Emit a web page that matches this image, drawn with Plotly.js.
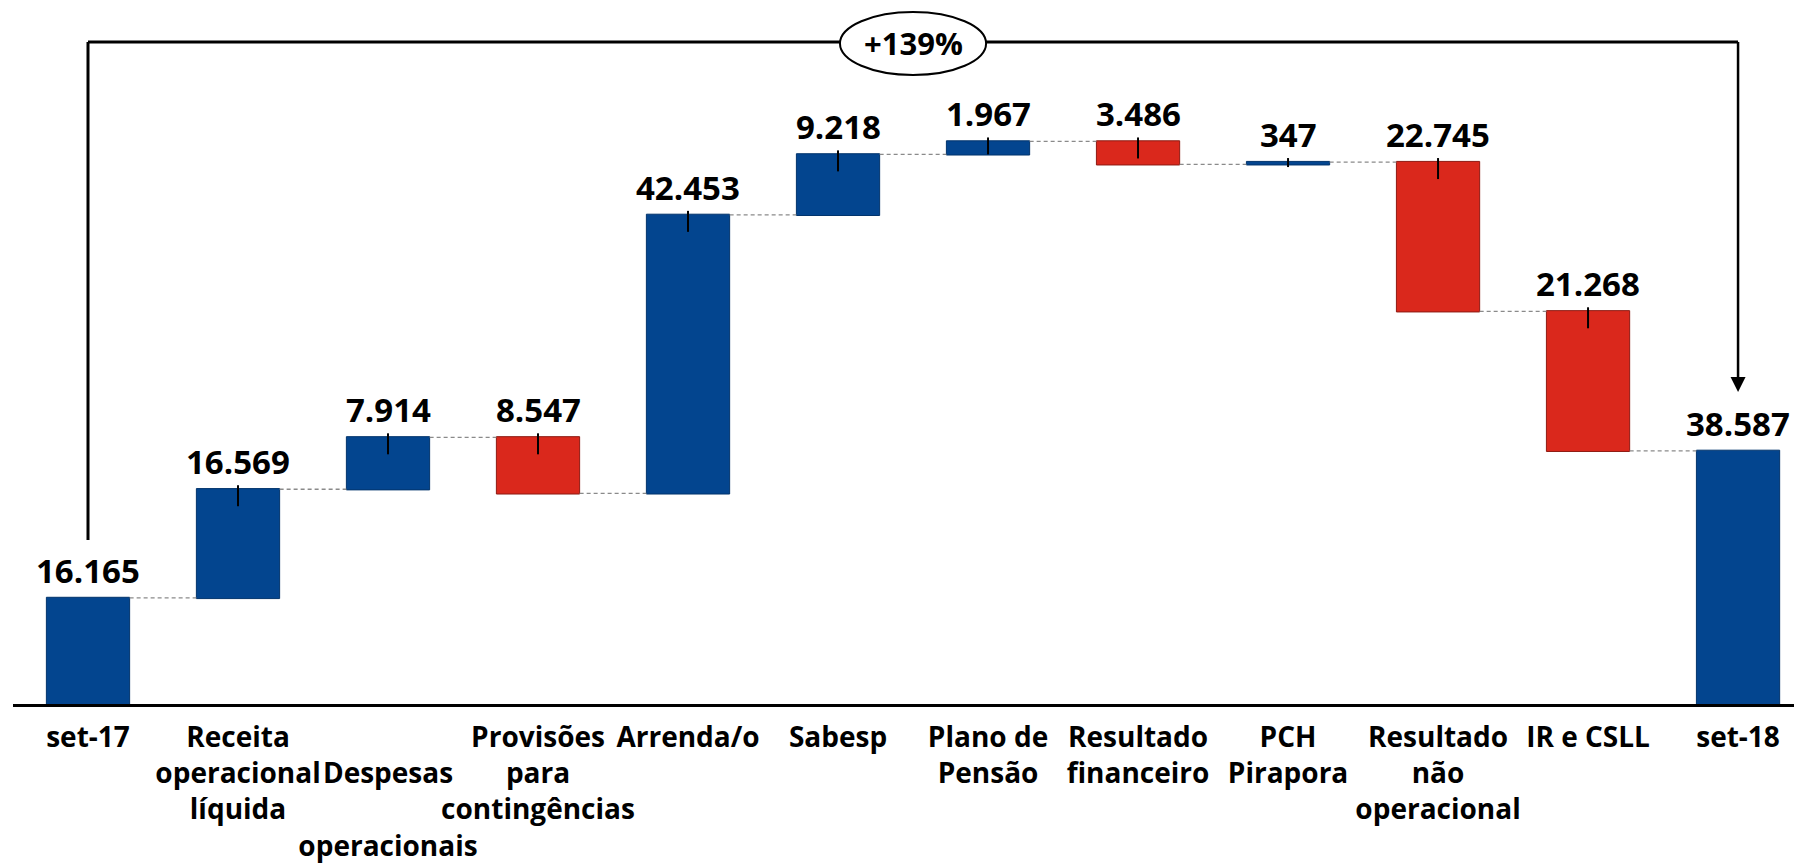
<!DOCTYPE html>
<html>
<head>
<meta charset="utf-8">
<script src="https://cdn.plot.ly/plotly-3.0.1.min.js"></script>
<style>
  html, body { margin: 0; padding: 0; background: #ffffff; }
  #chart { width: 1794px; height: 866px; }
</style>
</head>
<body>
<div id="chart"></div>
<script>
// ---- data ----
const categories = [
  "set-17",
  "Receita<br>operacional<br>líquida",
  " <br>Despesas<br> <br>operacionais",
  "Provisões<br>para<br>contingências",
  "Arrenda/o",
  "Sabesp",
  "Plano de<br>Pensão",
  "Resultado<br>financeiro",
  "PCH<br>Pirapora",
  "Resultado<br>não<br>operacional",
  "IR e CSLL",
  "set-18"
];
const measures = ["absolute", "relative", "relative", "relative", "relative", "relative",
                  "relative", "relative", "relative", "relative", "relative", "total"];
const values = [16.165, 16.569, 7.914, -8.547, 42.453, 9.218, 1.967, -3.486, 0.347, -22.745, -21.268, 38.587];
const valueLabels = ["16.165", "16.569", "7.914", "8.547", "42.453", "9.218", "1.967", "3.486", "347", "22.745", "21.268", "38.587"];
const changeLabel = "+139%";

// ---- styling ----
const BLUE = "#03458F";
const BLUE_EDGE = "#02346c";
const RED = "#DA281C";
const RED_EDGE = "#8e1a12";
const FONT = "Open Sans";
const plotH = 704;           // plot area height in px
const yMax = 107.3;          // data range top
const pxPerUnit = plotH / yMax;

// cumulative tops (from the data)
const tops = [];
const bottoms = [];
let run = 0;
values.forEach((v, i) => {
  if (measures[i] === "absolute" || measures[i] === "total") {
    const base = measures[i] === "total" ? run : v;
    tops.push(base); bottoms.push(0); run = base;
  } else {
    const start = run, end = run + v;
    tops.push(Math.max(start, end)); bottoms.push(Math.min(start, end)); run = end;
  }
});

const trace = {
  type: "waterfall",
  x: categories,
  measure: measures,
  y: values,
  textinfo: "none",
  hoverinfo: "skip",
  increasing: { marker: { color: BLUE, line: { color: BLUE_EDGE, width: 1 } } },
  decreasing: { marker: { color: RED, line: { color: RED_EDGE, width: 1 } } },
  totals: { marker: { color: BLUE, line: { color: BLUE_EDGE, width: 1 } } },
  connector: { mode: "between", line: { color: "#8a8a8a", width: 1.3, dash: "4px,3px" } }
};

const annotations = [];
const shapes = [];

// value labels + leader ticks
categories.forEach((c, i) => {
  annotations.push({
    x: i, y: tops[i], xref: "x", yref: "y",
    text: valueLabels[i], showarrow: false,
    yanchor: "bottom", xanchor: "center", yshift: 3,
    font: { family: FONT, size: 33, color: "#000", weight: "bold" }
  });
  if (measures[i] === "relative") {
    const h = (tops[i] - bottoms[i]) * pxPerUnit;
    shapes.push({
      type: "line", xref: "x", yref: "y", ysizemode: "pixel",
      yanchor: tops[i], x0: i, x1: i, y0: 4, y1: -Math.min(17, Math.max(h, 5)),
      line: { color: "#000", width: 2 }
    });
  }
});

// bracket
const last = categories.length - 1;
const yTopPaper = (plotH - 42) / plotH;
shapes.push({ type: "line", xref: "x", yref: "paper", x0: 0, x1: 0,
  y0: (plotH - 540) / plotH, y1: yTopPaper, line: { color: "#000", width: 3 } });
shapes.push({ type: "line", xref: "x", yref: "paper", x0: 0, x1: last,
  y0: yTopPaper, y1: yTopPaper, line: { color: "#000", width: 3 } });
shapes.push({ type: "circle", xref: "x", yref: "paper",
  x0: (last / 2) - 0.487, x1: (last / 2) + 0.487,
  y0: (plotH - 75) / plotH, y1: (plotH - 12) / plotH,
  fillcolor: "#ffffff", line: { color: "#000", width: 2 } });

annotations.push({
  x: last / 2, y: (plotH - 43.5) / plotH, xref: "x", yref: "paper",
  text: changeLabel, showarrow: false, xanchor: "center", yanchor: "middle",
  font: { family: FONT, size: 31, color: "#000", weight: "bold" }
});
// right arrow
annotations.push({
  x: last, y: (plotH - 392) / plotH, xref: "x", yref: "paper",
  ax: 0, ay: -(392 - 42) - 1.5, axref: "pixel", ayref: "pixel",
  text: "", showarrow: true, arrowhead: 2, arrowsize: 1.2, arrowwidth: 2.5,
  arrowcolor: "#000", standoff: 0
});

const layout = {
  width: 1794, height: 866,
  margin: { l: 13, r: 0, t: 0, b: 866 - plotH },
  paper_bgcolor: "#ffffff", plot_bgcolor: "#ffffff",
  showlegend: false,
  waterfallgap: 0.445,
  xaxis: {
    type: "category",
    range: [-0.5, 11.373],
    showline: true, linecolor: "#000", linewidth: 3,
    ticks: "", showgrid: false, zeroline: false,
    tickangle: 0,
    tickfont: { family: FONT, size: 28, color: "#000", weight: "bold" },
    ticklabelstandoff: 6,
    fixedrange: true
  },
  yaxis: {
    range: [0, yMax], visible: false, showgrid: false, zeroline: false, fixedrange: true
  },
  shapes: shapes,
  annotations: annotations,
  font: { family: FONT }
};

Plotly.newPlot("chart", [trace], layout, { staticPlot: true, displayModeBar: false });
</script>
</body>
</html>
